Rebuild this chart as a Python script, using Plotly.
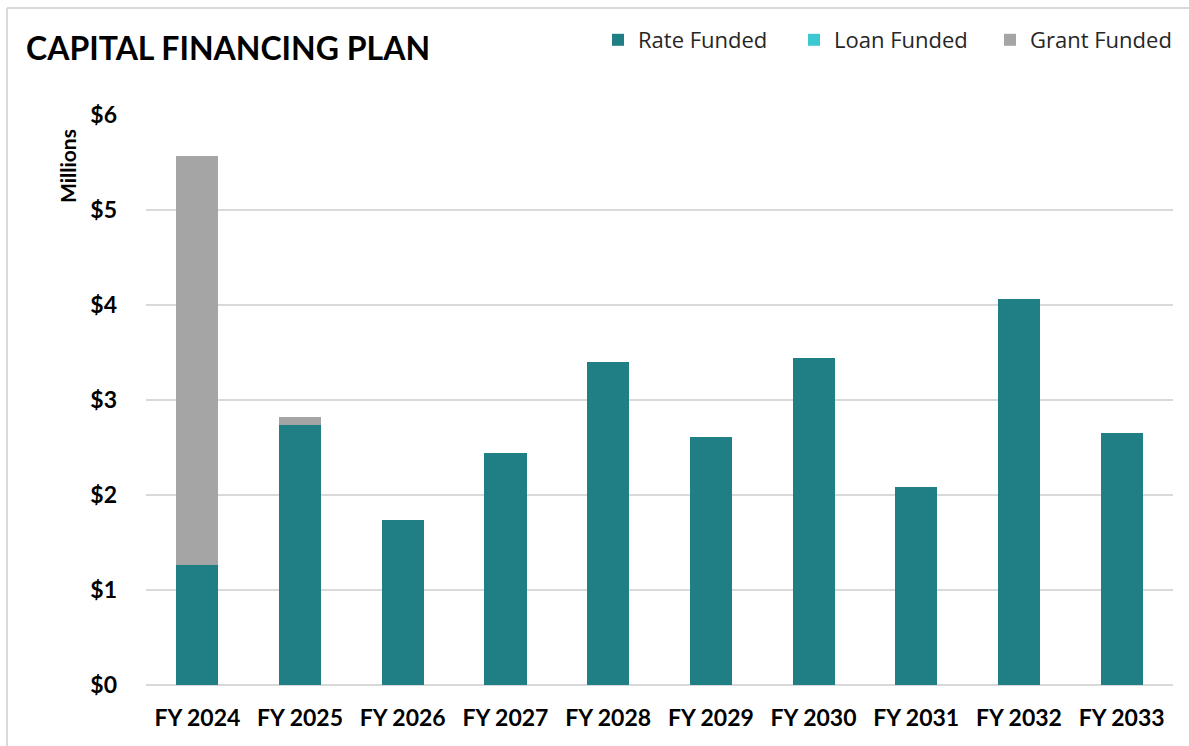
import plotly.graph_objects as go

# Capital financing plan, $ millions by fiscal year
years = ["FY 2024", "FY 2025", "FY 2026", "FY 2027", "FY 2028",
         "FY 2029", "FY 2030", "FY 2031", "FY 2032", "FY 2033"]
rate_funded = [1.26, 2.74, 1.74, 2.44, 3.40, 2.61, 3.44, 2.08, 4.06, 2.65]
loan_funded = [0, 0, 0, 0, 0, 0, 0, 0, 0, 0]
grant_funded = [4.31, 0.08, 0, 0, 0, 0, 0, 0, 0, 0]
y_ticks = [0, 1, 2, 3, 4, 5, 6]
y_tick_labels = ["$0", "$1", "$2", "$3", "$4", "$5", "$6"]

W, H = 1189, 746
L, R, T, B = 146, 16, 115, 61
FONT = "Lato, 'Open Sans', sans-serif"
LEGEND_FONT = dict(size=22, color="#262626", family="'Open Sans', sans-serif")

fig = go.Figure()
fig.add_trace(go.Bar(name="Rate Funded", x=years, y=rate_funded, legend="legend",
                     marker=dict(color="#1F7F85", line=dict(width=0))))
fig.add_trace(go.Bar(name="Loan Funded", x=years, y=loan_funded, legend="legend2",
                     marker=dict(color="#3CC8D3", line=dict(width=0))))
fig.add_trace(go.Bar(name="Grant Funded", x=years, y=grant_funded, legend="legend3",
                     marker=dict(color="#A5A5A5", line=dict(width=0))))

pw = W - L - R
ph = H - T - B

def px_x(p):
    return (p - L) / pw

def px_y(p):
    return (H - B - p) / ph

def legend_at(px):
    return dict(orientation="h", x=px_x(px), y=px_y(40), xanchor="left", yanchor="middle",
                font=LEGEND_FONT, itemwidth=30, bgcolor="rgba(0,0,0,0)")

fig.update_layout(
    width=W, height=H,
    margin=dict(l=L, r=R, t=T, b=B),
    barmode="stack",
    bargap=0.59,
    plot_bgcolor="white",
    paper_bgcolor="white",
    font=dict(family=FONT, color="#000000"),
    showlegend=True,
    legend=legend_at(598),
    legend2=legend_at(794),
    legend3=legend_at(990),
    xaxis=dict(showgrid=False, showline=False, ticks="", ticklabelstandoff=17,
               tickfont=dict(size=23, family=FONT, color="#000000", weight="bold")),
    yaxis=dict(range=[0, 6], tickvals=y_ticks, ticktext=y_tick_labels,
               showgrid=True, gridcolor="#D9D9D9", gridwidth=1.5,
               zeroline=True, zerolinecolor="#D9D9D9", zerolinewidth=1.5,
               showline=False, ticks="", ticklabelstandoff=28,
               tickfont=dict(size=23, family=FONT, color="#000000", weight="bold")),
    annotations=[
        dict(text="<b>CAPITAL FINANCING PLAN</b>", xref="paper", yref="paper",
             x=px_x(24), y=px_y(47), xanchor="left", yanchor="middle",
             showarrow=False, font=dict(size=32, family=FONT, color="#000000")),
        dict(text="<b>Millions</b>", xref="paper", yref="paper",
             x=px_x(68), y=px_y(166), xanchor="center", yanchor="middle",
             textangle=-90, showarrow=False,
             font=dict(size=21, family=FONT, color="#000000")),
    ],
    shapes=[
        dict(type="line", xref="paper", yref="paper",
             x0=px_x(7), x1=px_x(7), y0=px_y(H + 5), y1=px_y(8),
             line=dict(color="#D9D9D9", width=2)),
        dict(type="line", xref="paper", yref="paper",
             x0=px_x(7), x1=px_x(W + 5), y0=px_y(8), y1=px_y(8),
             line=dict(color="#D9D9D9", width=2)),
    ],
)

fig.write_html("out.html")
